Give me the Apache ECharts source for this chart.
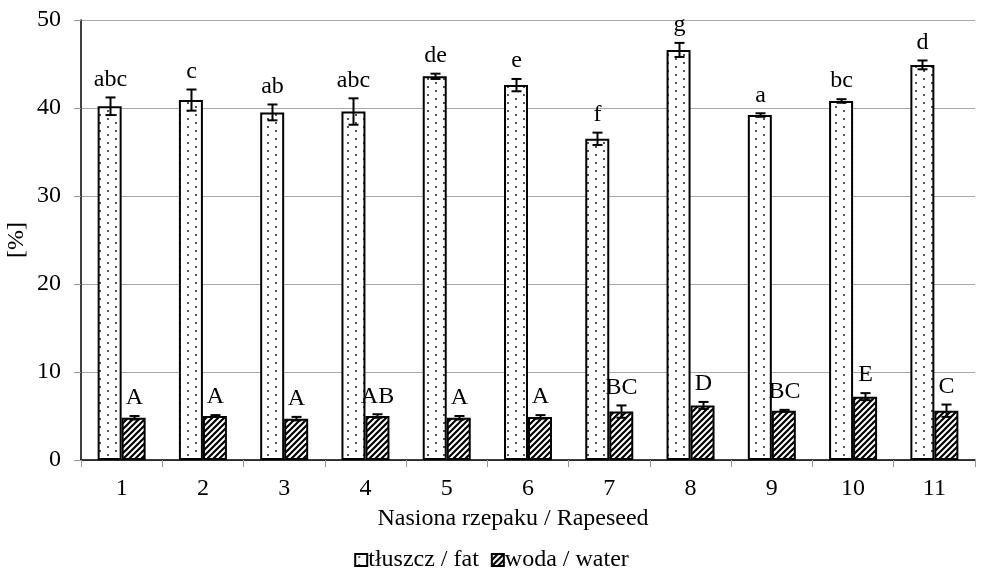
<!DOCTYPE html>
<html>
<head>
<meta charset="utf-8">
<script src="https://cdn.jsdelivr.net/npm/echarts@6/dist/echarts.min.js"></script>
<style>
  html, body { margin: 0; padding: 0; background: #ffffff; }
  #chart { width: 983px; height: 587px; }
</style>
</head>
<body>
<div id="chart"></div>
<script>
// Rapeseed samples 1..11: fat and water content [%], mean ± SD with group letters
const categories = ['1', '2', '3', '4', '5', '6', '7', '8', '9', '10', '11'];
const fatMean  = [40.2, 40.9, 39.5, 39.6, 43.6, 42.6, 36.5, 46.6, 39.2, 40.8, 44.9];
const fatSd    = [1.0, 1.2, 0.9, 1.5, 0.3, 0.7, 0.7, 0.8, 0.2, 0.2, 0.5];
const fatGroups = ['abc', 'c', 'ab', 'abc', 'de', 'e', 'f', 'g', 'a', 'bc', 'd'];
const waterMean = [4.8, 5.0, 4.7, 5.0, 4.8, 4.9, 5.5, 6.2, 5.6, 7.2, 5.6];
const waterSd   = [0.2, 0.1, 0.2, 0.2, 0.2, 0.2, 0.7, 0.4, 0.1, 0.4, 0.7];
const waterGroups = ['A', 'A', 'A', 'AB', 'A', 'A', 'BC', 'D', 'BC', 'E', 'C'];
const seriesNames = ['tłuszcz / fat', 'woda / water'];

const FONT = '"Liberation Serif", "Times New Roman", serif';
const BAR_W = 24;

// Fill patterns: sparse staggered dots for fat, upward diagonal hatch for water
function dotTile() {
  const c = document.createElement('canvas');
  c.width = 16; c.height = 8;
  const g = c.getContext('2d');
  g.fillStyle = '#ffffff';
  g.fillRect(0, 0, 16, 8);
  g.fillStyle = '#555555';
  g.fillRect(3, 2, 2, 2);
  g.fillRect(11, 6, 2, 2);
  return c;
}
function hatchTile() {
  const s = 6;
  const c = document.createElement('canvas');
  c.width = s; c.height = s;
  const g = c.getContext('2d');
  g.fillStyle = '#ffffff';
  g.fillRect(0, 0, s, s);
  g.strokeStyle = '#000000';
  g.lineWidth = 2.2;
  g.beginPath();
  g.moveTo(-1, s + 1); g.lineTo(s + 1, -1);
  g.moveTo(-1, 1); g.lineTo(1, -1);
  g.moveTo(s - 1, s + 1); g.lineTo(s + 1, s - 1);
  g.stroke();
  return c;
}

const chart = echarts.init(document.getElementById('chart'), null, { renderer: 'canvas' });

function errorData(means, sds, groups) {
  return means.map((m, i) => [i, m, sds[i], groups[i]]);
}

// Error bar (mean ± SD) with the group letter above its upper cap
function errorRenderer(offset) {
  return function (params, api) {
    const idx = api.value(0);
    const m = api.value(1);
    const sd = api.value(2);
    const label = api.value(3);
    const top = api.coord([idx, m + sd]);
    const bot = api.coord([idx, m - sd]);
    const x = Math.round(top[0] + offset) + 0.5;
    const cap = 5;
    const style = { stroke: '#000000', lineWidth: 2 };
    return {
      type: 'group',
      children: [
        { type: 'line', shape: { x1: x, y1: top[1], x2: x, y2: bot[1] }, style: style },
        { type: 'line', shape: { x1: x - cap, y1: top[1], x2: x + cap, y2: top[1] }, style: style },
        { type: 'line', shape: { x1: x - cap, y1: bot[1], x2: x + cap, y2: bot[1] }, style: style },
        {
          type: 'text',
          style: {
            text: label, x: x, y: top[1] - 6,
            align: 'center', verticalAlign: 'bottom',
            font: '24px ' + FONT, fill: '#000000'
          }
        }
      ]
    };
  };
}

const option = {
  backgroundColor: '#ffffff',
  animation: false,
  grid: { left: 81, right: 8, top: 20, bottom: 127, containLabel: false, outerBoundsMode: 'none' },
  legend: {
    data: seriesNames,
    bottom: 10,
    left: 'center',
    itemWidth: 12,
    itemHeight: 12,
    itemGap: 12,
    icon: 'rect',
    textStyle: { fontFamily: FONT, fontSize: 24, color: '#000000', padding: [0, 0, 0, -4] }
  },
  xAxis: {
    type: 'category',
    data: categories,
    name: 'Nasiona rzepaku / Rapeseed',
    nameLocation: 'middle',
    nameGap: 47,
    nameMoveOverlap: false,
    nameTextStyle: { fontFamily: FONT, fontSize: 24, color: '#000000', padding: [0, 30, 0, 0] },
    axisLine: { lineStyle: { color: '#000000', width: 1.5 } },
    axisTick: { show: true, length: 7, lineStyle: { color: '#999999' } },
    axisLabel: { fontFamily: FONT, fontSize: 24, color: '#000000', margin: 17 },
    splitLine: { show: false }
  },
  yAxis: {
    type: 'value',
    min: 0, max: 50, interval: 10,
    name: '[%]',
    nameLocation: 'middle',
    nameGap: 52,
    nameRotate: 90,
    nameMoveOverlap: false,
    nameTextStyle: { fontFamily: FONT, fontSize: 24, color: '#000000' },
    axisLine: { show: true, lineStyle: { color: '#000000', width: 1.5 } },
    axisTick: { show: true, length: 7, lineStyle: { color: '#999999' } },
    axisLabel: { fontFamily: FONT, fontSize: 24, color: '#000000', margin: 20 },
    splitLine: { show: true, lineStyle: { color: '#a8a8a8', width: 1 } }
  },
  series: [
    {
      name: seriesNames[0],
      type: 'bar',
      data: fatMean,
      barWidth: BAR_W,
      barGap: '0%',
      itemStyle: {
        color: { image: dotTile(), repeat: 'repeat' },
        borderColor: '#000000',
        borderWidth: 2
      },
      z: 2
    },
    {
      name: seriesNames[1],
      type: 'bar',
      data: waterMean,
      barWidth: BAR_W,
      barGap: '0%',
      itemStyle: {
        color: { image: hatchTile(), repeat: 'repeat' },
        borderColor: '#000000',
        borderWidth: 2
      },
      z: 2
    },
    {
      name: 'fatErr',
      type: 'custom',
      renderItem: errorRenderer(-BAR_W / 2),
      data: errorData(fatMean, fatSd, fatGroups),
      encode: { x: 0, y: 1 },
      z: 5,
      silent: true
    },
    {
      name: 'waterErr',
      type: 'custom',
      renderItem: errorRenderer(BAR_W / 2),
      data: errorData(waterMean, waterSd, waterGroups),
      encode: { x: 0, y: 1 },
      z: 5,
      silent: true
    }
  ]
};

chart.setOption(option);
</script>
</body>
</html>
